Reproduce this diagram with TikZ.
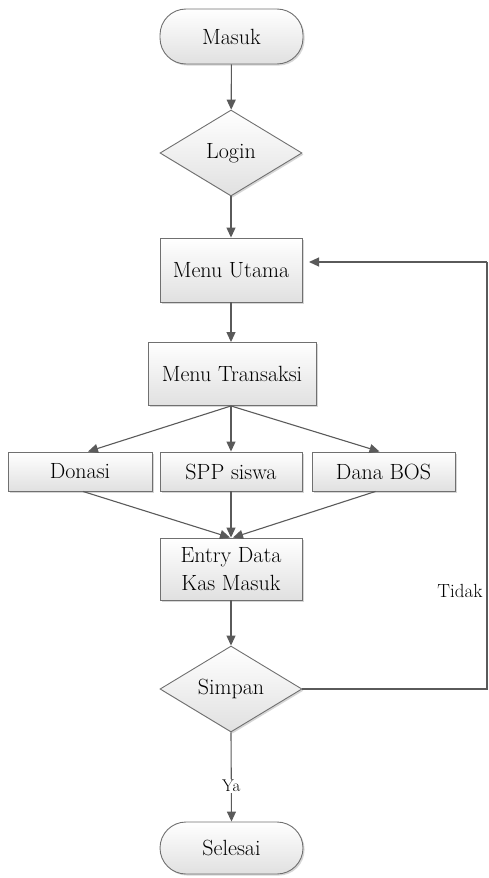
\documentclass[tikz,border=0pt]{standalone}
\usetikzlibrary{shapes.geometric,arrows.meta,shadows}
\definecolor{linegray}{HTML}{5A5A5A}
\definecolor{edgegray}{HTML}{707070}
\tikzset{
  base/.style={draw=edgegray, line width=0.9pt, top color=white, bottom color=black!12,
    drop shadow={shadow xshift=1.6pt, shadow yshift=-1.6pt, fill=black!16, opacity=1},
    inner sep=0pt, font=\rmfamily\fontsize{22}{28}\selectfont, align=center},
  terminal/.style={base, rectangle, rounded corners=26pt, minimum width=143pt},
  process/.style={base, rectangle},
  decision/.style={base, diamond, minimum width=142pt, minimum height=86pt, aspect=1.65},
  flow/.style={draw=linegray, line width=1.1pt, -{Triangle[length=10pt,width=9pt]}},
  plainline/.style={draw=linegray, line width=1.1pt},
  lbl/.style={font=\rmfamily\fontsize{19}{24}\selectfont, inner sep=1pt},
}
\begin{document}
\begin{tikzpicture}[x=1pt,y=-1pt]
\useasboundingbox (0,0) rectangle (488,878);

% nodes of the flow
\node[terminal, minimum height=55pt] (masuk) at (231.5,36.5) {Masuk};
\node[decision] (login) at (231,153) {Login};
\node[process, minimum width=142pt, minimum height=64pt] (utama) at (231,270) {Menu Utama};
\node[process, minimum width=168pt, minimum height=63pt] (transaksi) at (232,374) {Menu Transaksi};
\node[process, minimum width=144pt, minimum height=39pt] (donasi) at (80,471.5) {Donasi};
\node[process, minimum width=142pt, minimum height=39pt] (spp) at (231,471.5) {SPP siswa};
\node[process, minimum width=143pt, minimum height=39pt] (bos) at (383.5,471.5) {Dana BOS};
\node[process, minimum width=142pt, minimum height=62pt] (entry) at (231,569) {Entry Data\\Kas Masuk};
\node[decision] (simpan) at (231,689) {Simpan};
\node[terminal, minimum height=52pt] (selesai) at (231.5,848) {Selesai};

% return path of the "Tidak" branch
\coordinate (loopR) at (487,689);
\coordinate (loopT) at (487,262);
\coordinate (loopEnd) at (309,262);

% connectors
\draw[flow] (masuk) -- (login);
\draw[flow] (login) -- (utama);
\draw[flow] (utama) -- (utama |- transaksi.north);
\draw[flow] (spp |- transaksi.south) -- ([xshift=8pt]donasi.north);
\draw[flow] (spp |- transaksi.south) -- (spp.north);
\draw[flow] (spp |- transaksi.south) -- ([xshift=-4pt]bos.north);
\draw[flow] ([xshift=3pt]donasi.south) -- ([xshift=-1pt]entry.north);
\draw[flow] (spp.south) -- (entry.north);
\draw[flow] ([xshift=-8pt]bos.south) -- ([xshift=2pt]entry.north);
\draw[flow] (entry) -- (simpan);
\draw[flow] (simpan.south) -- node[pos=0.6, fill=white, lbl, font=\rmfamily\fontsize{17}{20}\selectfont] (ya) {Ya} (selesai.north);
\draw[plainline] (simpan.east) -- (loopR) -- (loopT);
\draw[flow] (loopT) -- (loopEnd);

\node[lbl] (tidak) at (460,591) {Tidak};
\end{tikzpicture}
\end{document}
